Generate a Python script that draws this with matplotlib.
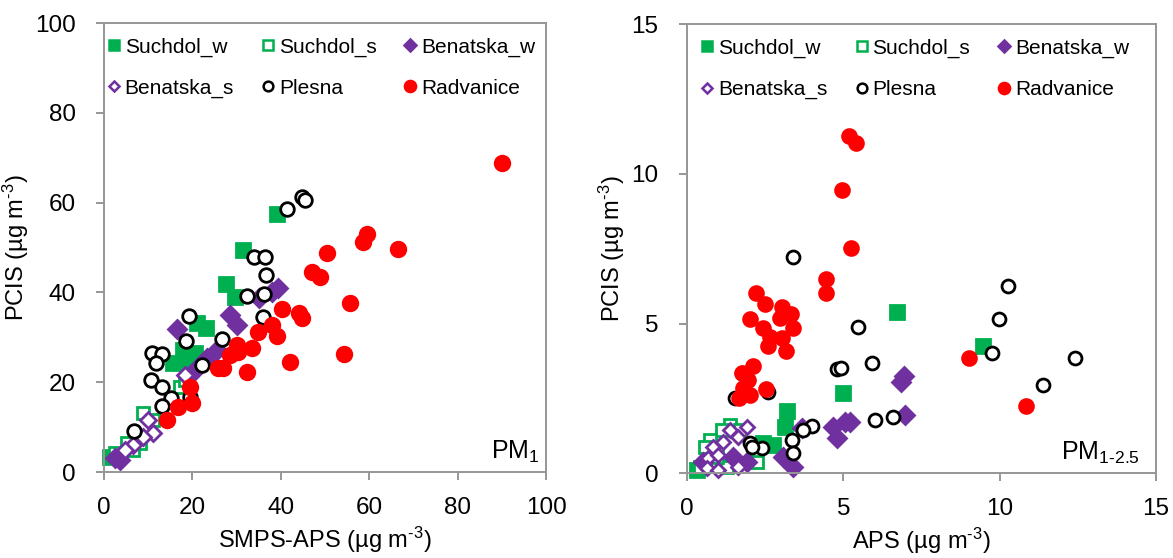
import matplotlib
matplotlib.use("Agg")
import matplotlib.pyplot as plt

plt.rcParams["font.family"] = ["Liberation Sans", "DejaVu Sans"]
plt.rcParams["mathtext.fontset"] = "custom"
plt.rcParams["mathtext.rm"] = "Liberation Sans"
plt.rcParams["mathtext.it"] = "Liberation Sans"

# PM1: SMPS-APS (x) vs PCIS (y), ug m-3
pm1_suchdol_w_x = [39.1, 31.4, 27.6, 29.6, 21.0, 23.1, 17.9, 20.6, 15.6, 19.0, 1.4]
pm1_suchdol_w_y = [57.5, 49.4, 41.9, 39.0, 33.2, 32.1, 27.2, 26.5, 24.3, 25.0, 3.3]
pm1_suchdol_s_x = [8.8, 11.1, 8.1, 5.2, 2.5, 6.6, 17.2, 18.3]
pm1_suchdol_s_y = [13.1, 11.6, 6.5, 6.5, 4.2, 4.9, 18.9, 20.5]
pm1_benatska_w_x = [39.4, 38.0, 35.1, 28.5, 30.1, 16.5, 25.6, 23.3, 21.3, 19.0, 2.5, 3.6]
pm1_benatska_w_y = [41.0, 40.1, 38.8, 35.0, 32.7, 31.8, 27.2, 25.4, 23.4, 21.2, 3.1, 2.7]
pm1_benatska_s_x = [18.3, 10.0, 11.1, 6.6, 8.8, 4.8]
pm1_benatska_s_y = [21.6, 11.6, 8.7, 6.0, 7.8, 4.9]
pm1_plesna_x = [44.8, 45.5, 41.4, 33.9, 36.4, 36.7, 32.4, 36.2, 36.0, 19.2, 18.6, 26.7,
                10.8, 13.1, 11.8, 22.2, 10.6, 13.1, 15.2, 13.1, 6.8, 19.5]
pm1_plesna_y = [61.2, 60.6, 58.6, 47.9, 47.9, 43.9, 39.2, 39.6, 34.5, 34.7, 29.2, 29.6,
                26.5, 26.3, 24.3, 23.8, 20.5, 18.9, 16.5, 14.7, 9.1, 16.7]
pm1_radvanice_x = [90.0, 59.5, 58.6, 66.5, 50.5, 47.1, 48.9, 55.7, 54.3, 40.3, 44.1, 44.8,
                   34.8, 38.0, 39.1, 30.1, 33.5, 28.5, 30.3, 42.1, 25.8, 26.9, 32.4,
                   19.5, 19.9, 16.7, 14.2]
pm1_radvanice_y = [68.8, 53.0, 51.2, 49.7, 48.8, 44.5, 43.4, 37.6, 26.3, 36.3, 35.4, 34.3,
                   31.2, 32.7, 30.3, 28.3, 27.6, 26.1, 26.7, 24.5, 23.2, 23.2, 22.3,
                   18.9, 15.4, 14.5, 11.6]

# PM1-2.5: APS (x) vs PCIS (y), ug m-3
pm25_suchdol_w_x = [6.72, 9.47, 4.99, 3.20, 3.13, 2.75, 2.43, 0.32]
pm25_suchdol_w_y = [5.38, 4.24, 2.67, 2.07, 1.54, 0.94, 1.00, 0.10]
pm25_suchdol_s_x = [1.38, 1.12, 0.74, 0.58, 0.42, 2.24, 1.28, 0.96, 1.69]
pm25_suchdol_s_y = [1.60, 1.44, 1.10, 0.87, 0.20, 0.37, 0.20, 0.54, 1.44]
pm25_benatska_w_x = [6.85, 6.95, 6.97, 5.21, 4.67, 5.05, 4.80, 3.07, 3.39, 1.47, 1.92, 0.51, 3.68]
pm25_benatska_w_y = [3.05, 3.25, 1.94, 1.70, 1.54, 1.70, 1.17, 0.54, 0.20, 0.54, 0.37, 0.37, 1.50]
pm25_benatska_s_x = [1.92, 1.63, 1.38, 1.15, 0.83, 0.67, 0.99, 0.64, 0.99, 1.63]
pm25_benatska_s_y = [1.54, 1.20, 1.44, 1.04, 0.87, 0.50, 0.60, 0.17, 0.10, 0.20]
pm25_plesna_x = [3.39, 5.47, 5.92, 4.80, 4.92, 1.53, 2.59, 6.01, 4.00, 3.71, 3.36, 3.39,
                 2.01, 2.40, 2.08, 10.27, 9.98, 9.75, 12.41, 11.38, 6.59, 1.76]
pm25_plesna_y = [7.22, 4.88, 3.68, 3.47, 3.51, 2.51, 2.71, 1.77, 1.57, 1.44, 1.10, 0.67,
                 1.00, 0.84, 0.87, 6.25, 5.15, 4.01, 3.84, 2.94, 1.87, 3.34]
pm25_radvanice_x = [5.18, 5.40, 4.96, 5.24, 4.45, 4.45, 2.21, 2.49, 3.04, 3.33, 2.97, 2.01,
                    2.43, 3.39, 2.65, 3.04, 2.59, 3.17, 2.11, 1.76, 1.95, 1.79, 1.66, 2.01,
                    2.53, 9.02, 10.84]
pm25_radvanice_y = [11.26, 11.03, 9.46, 7.52, 6.48, 6.01, 6.01, 5.65, 5.55, 5.31, 5.18, 5.15,
                    4.84, 4.84, 4.54, 4.51, 4.24, 4.08, 3.57, 3.34, 3.11, 2.84, 2.51, 2.61,
                    2.81, 3.84, 2.24]

GREEN = "#00B050"
PURPLE = "#7030A0"
RED = "#FF0000"
FRAME = "#969696"

# name, marker, face, edge, size, legend size
styles = [
    ("Suchdol_w", "s", GREEN, GREEN, 10.0, 7.5),
    ("Suchdol_s", "s", "white", GREEN, 9.0, 6.5),
    ("Benatska_w", "D", PURPLE, PURPLE, 9.5, 6.0),
    ("Benatska_s", "D", "white", PURPLE, 8.0, 5.0),
    ("Plesna", "o", "white", "black", 9.8, 7.0),
    ("Radvanice", "o", RED, RED, 10.5, 8.0),
]

pm1_data = [
    (pm1_suchdol_w_x, pm1_suchdol_w_y),
    (pm1_suchdol_s_x, pm1_suchdol_s_y),
    (pm1_benatska_w_x, pm1_benatska_w_y),
    (pm1_benatska_s_x, pm1_benatska_s_y),
    (pm1_plesna_x, pm1_plesna_y),
    (pm1_radvanice_x, pm1_radvanice_y),
]
pm25_data = [
    (pm25_suchdol_w_x, pm25_suchdol_w_y),
    (pm25_suchdol_s_x, pm25_suchdol_s_y),
    (pm25_benatska_w_x, pm25_benatska_w_y),
    (pm25_benatska_s_x, pm25_benatska_s_y),
    (pm25_plesna_x, pm25_plesna_y),
    (pm25_radvanice_x, pm25_radvanice_y),
]

UNIT = "(µg m$^{\\text{-}3}$)"


def draw_panel(ax, data, lim, ticks, xlabel, tag, tag_x, scale=1.0, leg_x=0.0):
    handles = []
    for (name, marker, face, edge, size, lsize), (x, y) in zip(styles, data):
        ax.plot(x, y, linestyle="none", marker=marker, markersize=size * scale,
                markerfacecolor=face, markeredgecolor=edge, markeredgewidth=2.0,
                clip_on=False)
        handles.append(plt.Line2D([], [], linestyle="none", marker=marker,
                                  markersize=lsize, markerfacecolor=face,
                                  markeredgecolor=edge, markeredgewidth=1.8,
                                  label=name))
    ax.set_xlim(0, lim)
    ax.set_ylim(0, lim)
    ax.set_xticks(ticks)
    ax.set_yticks(ticks)
    ax.set_xlabel(xlabel, fontsize=17, labelpad=4)
    ax.set_ylabel("PCIS " + UNIT, fontsize=17, labelpad=3)
    for s in ax.spines.values():
        s.set_color(FRAME)
        s.set_linewidth(1.4)
    ax.tick_params(direction="out", length=6, width=1.4, color=FRAME,
                   labelsize=17.5)
    ax.tick_params(axis="y", pad=14.5)
    ax.tick_params(axis="x", pad=12)
    # legend fills column-wise, so reorder to read row by row
    order = [0, 3, 1, 4, 2, 5]
    ax.legend([handles[i] for i in order], [styles[i][0] for i in order],
              ncol=3, loc="upper left", frameon=False, fontsize=15,
              handlelength=0.55, handletextpad=0.25, columnspacing=1.35,
              labelspacing=1.05, borderaxespad=0.4, borderpad=0.3,
              bbox_to_anchor=(leg_x, 1.0))
    ax.text(tag_x, 0.03, tag, transform=ax.transAxes, ha="right", va="baseline",
            fontsize=18)


fig = plt.figure(figsize=(11.73, 5.58), dpi=100)
ax1 = fig.add_axes([0.0887, 0.154, 0.3768, 0.8047])
ax2 = fig.add_axes([0.5857, 0.152, 0.3998, 0.8047])

draw_panel(ax1, pm1_data, 100, [0, 20, 40, 60, 80, 100],
           "SMPS-APS " + UNIT, "PM$_1$", 0.986, leg_x=-0.024)
draw_panel(ax2, pm25_data, 15, [0, 5, 10, 15],
           "APS " + UNIT, "PM$_{1\\text{-}2.5}$", 0.965, scale=0.95, leg_x=0.0)

fig.savefig("out.png", dpi=100)
